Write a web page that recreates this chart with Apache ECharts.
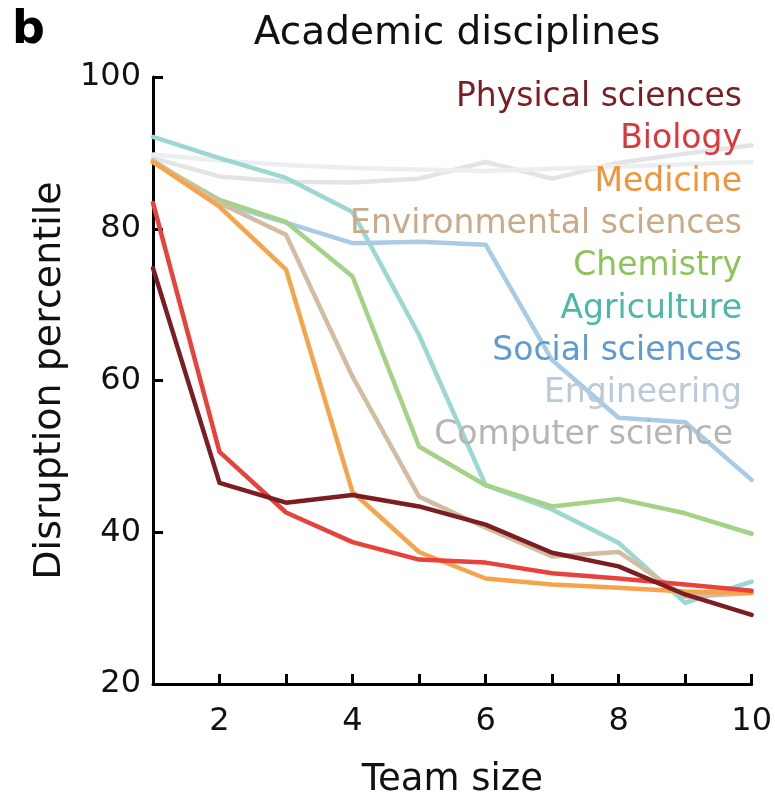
<!DOCTYPE html>
<html>
<head>
<meta charset="utf-8">
<script src="https://cdn.jsdelivr.net/npm/echarts@6/dist/echarts.min.js"></script>
<style>
  html, body { margin: 0; padding: 0; background: #ffffff; }
  #chart { width: 775px; height: 804px; }
</style>
</head>
<body>
<div id="chart"></div>
<script>
// ---- data ----
const teamSize = [1, 2, 3, 4, 5, 6, 7, 8, 9, 10];
const xTickLabels = [2, 4, 6, 8, 10];
const yTickLabels = [20, 40, 60, 80, 100];

const disciplines = ['Physical sciences', 'Biology', 'Medicine', 'Environmental sciences',
  'Chemistry', 'Agriculture', 'Social sciences', 'Engineering', 'Computer science'];

const physicalSciences = [74.8, 46.5, 43.9, 44.9, 43.4, 41.0, 37.3, 35.5, 31.8, 29.1];
const biology          = [83.4, 50.6, 42.6, 38.7, 36.4, 36.0, 34.6, 33.9, 33.1, 32.3];
const medicine         = [88.8, 82.9, 74.6, 45.3, 37.4, 33.9, 33.1, 32.7, 32.2, 32.0];
const environmental    = [89.0, 83.4, 79.2, 60.5, 44.7, 40.6, 36.8, 37.4, 31.5, 32.0];
const chemistry        = [88.8, 83.8, 80.9, 73.7, 51.3, 46.2, 43.4, 44.4, 42.5, 39.8];
const agriculture      = [92.1, 89.3, 86.7, 82.2, 66.0, 46.2, 43.0, 38.6, 30.7, 33.5];
const socialSciences   = [88.8, 83.4, 80.8, 78.1, 78.3, 77.9, 62.7, 55.1, 54.5, 46.9];
const engineering      = [89.8, 89.0, 88.4, 88.0, 87.8, 87.6, 87.9, 88.2, 88.5, 88.8];
const computerScience  = [89.3, 86.9, 86.2, 86.1, 86.6, 88.8, 86.6, 88.7, 89.9, 91.0];

const seriesValues = [physicalSciences, biology, medicine, environmental, chemistry,
  agriculture, socialSciences, engineering, computerScience];

// ---- styles ----
const lineColors = ['#7b1d22', '#e8423d', '#f6a44c', '#d2bca2', '#a4d287',
  '#9ad8d1', '#a9cbe6', '#eceff2', '#e4e4e4'];
const textColors = ['#7a1d24', '#e0353a', '#f39237', '#c9ab8a', '#8cc45a',
  '#4bb9a8', '#5d9bd0', '#b9cadb', '#b5b5b5'];
const labelRight = [33, 33, 33, 33, 33, 33, 33, 33, 42];
const FONT = 'DejaVu Sans';

const chart = echarts.init(document.getElementById('chart'), null, { renderer: 'canvas' });

// draw faint lines first so the saturated ones sit on top
const drawOrder = [8, 7, 6, 5, 4, 3, 2, 1, 0];
const series = drawOrder.map(i => ({
  name: disciplines[i],
  type: 'line',
  data: teamSize.map((t, k) => [t, seriesValues[i][k]]),
  showSymbol: false,
  symbol: 'none',
  lineStyle: { color: lineColors[i], width: 4.5, join: 'round', cap: 'round' },
  emphasis: { disabled: true },
  silent: true,
  animation: false
}));

const legendTexts = disciplines.map((name, i) => ({
  type: 'text',
  right: labelRight[i],
  top: 81 + i * 42.3,
  style: {
    text: name,
    fill: textColors[i],
    font: '33px "' + FONT + '"',
    textAlign: 'right'
  },
  z: 100
}));

const option = {
  animation: false,
  backgroundColor: '#ffffff',
  grid: { left: 153, right: 15, top: 77, bottom: 120, containLabel: false },
  xAxis: {
    type: 'value',
    min: 1,
    max: 10,
    interval: 1,
    name: 'Team size',
    nameLocation: 'middle',
    nameGap: 78,
    nameTextStyle: { fontFamily: FONT, fontSize: 37, color: '#111' },
    axisLine: { show: true, onZero: false, lineStyle: { color: '#000', width: 3 } },
    axisTick: { show: true, inside: true, length: 10, lineStyle: { color: '#000', width: 3 } },
    axisLabel: {
      fontFamily: FONT, fontSize: 32, color: '#111', margin: 22,
      formatter: v => (xTickLabels.indexOf(v) >= 0 ? String(v) : '')
    },
    splitLine: { show: false }
  },
  yAxis: {
    type: 'value',
    min: 20,
    max: 100,
    interval: 20,
    name: 'Disruption percentile',
    nameLocation: 'middle',
    nameGap: 75,
    nameRotate: 90,
    nameTextStyle: { fontFamily: FONT, fontSize: 38, color: '#111' },
    axisLine: { show: true, onZero: false, lineStyle: { color: '#000', width: 3 } },
    axisTick: { show: true, inside: true, length: 10, lineStyle: { color: '#000', width: 3 } },
    axisLabel: {
      fontFamily: FONT, fontSize: 32, color: '#111', margin: 12,
      padding: [10, 0, 0, 0],
      formatter: v => (yTickLabels.indexOf(v) >= 0 ? String(v) : '')
    },
    splitLine: { show: false }
  },
  graphic: [
    {
      type: 'text', left: 12, top: 8,
      style: { text: 'b', fill: '#000', font: 'bold 46px "' + FONT + '"' }
    },
    {
      type: 'text', x: 457, y: 34,
      style: { text: 'Academic disciplines', fill: '#111', font: '39px "' + FONT + '"',
        textAlign: 'center', textVerticalAlign: 'middle' }
    }
  ].concat(legendTexts),
  series: series
};

chart.setOption(option);
</script>
</body>
</html>
